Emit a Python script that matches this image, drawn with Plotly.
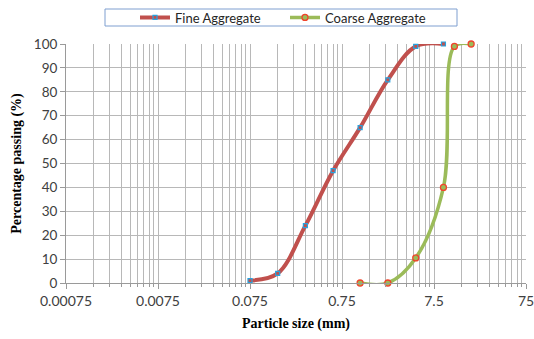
import math
import plotly.graph_objects as go

# Data
fine_size = [0.075, 0.15, 0.3, 0.6, 1.18, 2.36, 4.75, 9.5]
fine_pass = [1, 4, 24, 47, 65, 85, 99, 100]
coarse_size = [1.18, 2.36, 4.75, 9.5, 12.5, 19]
coarse_pass = [0, 0, 10.5, 40, 99, 100]
x_tick_vals = [0.00075, 0.0075, 0.075, 0.75, 7.5, 75]
x_tick_text = ["0.00075", "0.0075", "0.075", "0.75", "7.5", "75"]
y_tick_vals = list(range(0, 101, 10))

minor_vals = [d * k for d in x_tick_vals[:-1] for k in range(2, 10)]

GRID = "#B8B8B8"
FONT = "Lato, Open Sans, sans-serif"

fig = go.Figure()
fig.add_trace(go.Scatter(
    x=fine_size, y=fine_pass, name="Fine Aggregate", mode="lines+markers",
    line=dict(color="#C0504D", width=4, shape="spline", smoothing=1),
    marker=dict(symbol="square", size=4, color="#C0504D",
                line=dict(color="#27A3E0", width=1.2)),
    cliponaxis=False,
))
fig.add_trace(go.Scatter(
    x=coarse_size, y=coarse_pass, name="Coarse Aggregate", mode="lines+markers",
    line=dict(color="#9BBB59", width=3.5, shape="spline", smoothing=1),
    marker=dict(symbol="circle", size=6, color="#9BBB59",
                line=dict(color="#F0442C", width=1.3)),
    cliponaxis=False,
))

# legend frame
fig.add_shape(type="rect", xref="paper", yref="paper",
              x0=(105 - 66) / 460, x1=(457 - 66) / 460,
              y0=(283 - 26) / 239, y1=(283 - 9) / 239,
              line=dict(color="#7F9FD0", width=1), fillcolor="white", layer="below")

fig.update_layout(
    width=534, height=339,
    margin=dict(l=66, r=8, t=44, b=56, autoexpand=False),
    paper_bgcolor="white", plot_bgcolor="white",
    showlegend=True,
    legend=dict(
        orientation="h", x=(135 - 66) / 460, xanchor="left",
        y=(283 - 17.5) / 239, yanchor="middle",
        borderwidth=0, bgcolor="rgba(0,0,0,0)",
        font=dict(family=FONT, size=13, color="#262626"),
        entrywidth=105, tracegroupgap=0,
    ),
    xaxis=dict(
        type="log", automargin=False,
        range=[math.log10(0.00075), math.log10(75)],
        tickmode="array", tickvals=x_tick_vals, ticktext=x_tick_text,
        ticklabeloverflow="allow",
        showgrid=True, gridcolor=GRID, gridwidth=1,
        showline=True, linecolor="#9A9A9A", linewidth=1,
        ticks="outside", ticklen=5, tickcolor="#9A9A9A",
        tickfont=dict(family=FONT, size=14, color="#404040"),
        minor=dict(tickmode="array", tickvals=minor_vals, showgrid=True,
                   gridcolor=GRID, gridwidth=1, ticks="outside", ticklen=3,
                   tickcolor="#9A9A9A"),
        title=dict(text="<b>Particle size (mm)</b>",
                   font=dict(family="Liberation Serif, serif", size=14, color="black"),
                   standoff=10),
        zeroline=False,
    ),
    yaxis=dict(
        range=[0, 100], automargin=False,
        tickmode="array", tickvals=y_tick_vals,
        ticklabeloverflow="allow",
        showgrid=True, gridcolor=GRID, gridwidth=1,
        showline=True, linecolor="#9A9A9A", linewidth=1,
        ticks="outside", ticklen=5, tickcolor="#9A9A9A",
        tickfont=dict(family=FONT, size=13.5, color="#404040"),
        title=dict(text="<b>Percentage passing (%)</b>",
                   font=dict(family="Liberation Serif, serif", size=14, color="black"),
                   standoff=8),
        zeroline=False,
    ),
)

fig.write_html("out.html")
